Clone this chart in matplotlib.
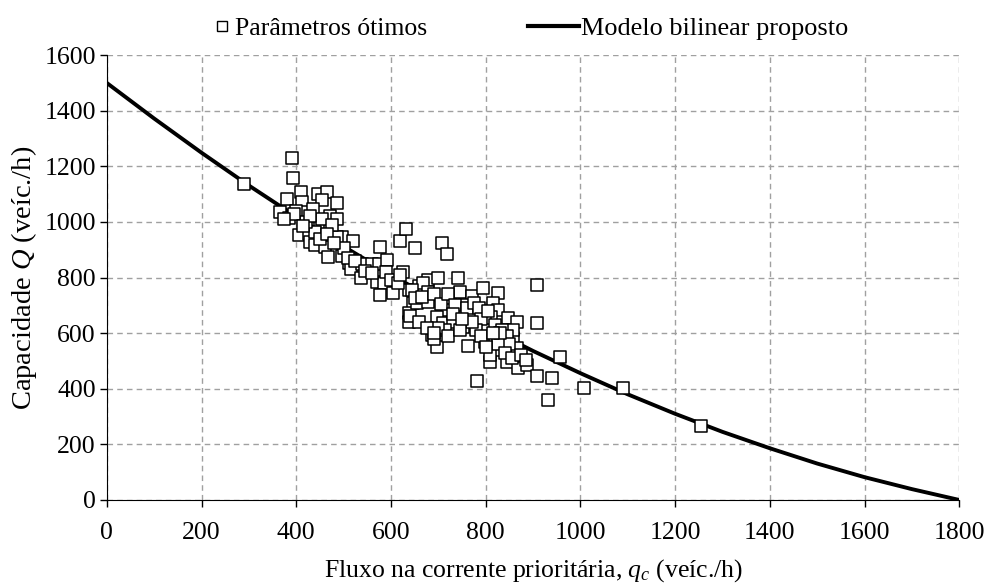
import matplotlib
matplotlib.use("Agg")
import matplotlib.pyplot as plt
from matplotlib.lines import Line2D

plt.rcParams['font.family'] = ['Liberation Serif', 'DejaVu Serif']
plt.rcParams['mathtext.fontset'] = 'custom'
plt.rcParams['mathtext.rm'] = 'Liberation Serif'
plt.rcParams['mathtext.it'] = 'Liberation Serif:italic'

# parâmetros ótimos (qc, Q)
qc_pts = [290, 392, 394, 409, 381, 445, 465, 455, 485, 413, 366, 385, 418, 435, 400,
          471, 485, 451, 471, 406, 427, 430, 439, 460, 496, 519, 485, 577, 619, 632,
          651, 468, 496, 511, 516, 539, 537, 559, 575, 591, 570, 586, 577, 604, 625,
          637, 647, 637, 637, 660, 707, 718, 679, 700, 742, 668, 679, 644, 654, 679,
          725, 745, 770, 756, 794, 825, 816, 827, 718, 697, 739, 811, 847, 866, 908,
          908, 709, 686, 753, 799, 801, 697, 763, 799, 830, 858, 866, 809, 844, 868,
          887, 908, 939, 956, 782, 932, 858, 1008, 1089, 1255,
          440, 455, 420, 395, 430, 475, 500, 510, 525, 545, 560, 590, 600, 615, 620,
          650, 665, 690, 705, 720, 735, 760, 775, 785, 790, 805, 820, 835, 845, 850,
          820, 780, 770, 730, 715, 700, 690, 720, 745, 810, 825, 840, 855, 875, 885,
          830, 450, 465, 480, 415, 375, 640, 660, 675, 690, 730, 750, 790, 800, 815]
Q_pts = [1135, 1230, 1157, 1107, 1082, 1102, 1107, 1080, 1068, 1072, 1035, 1016, 1035, 1045, 1040,
         1023, 1009, 988, 970, 952, 958, 928, 916, 910, 946, 932, 946, 910, 932, 976,
         908, 874, 877, 854, 830, 848, 800, 848, 848, 862, 784, 779, 737, 743, 820,
         755, 707, 671, 641, 769, 926, 884, 790, 797, 797, 779, 749, 755, 707, 713,
         719, 749, 733, 701, 764, 746, 707, 683, 683, 659, 665, 659, 653, 641, 773,
         637, 635, 593, 623, 641, 611, 551, 554, 569, 539, 581, 545, 497, 497, 473,
         485, 447, 437, 513, 428, 360, 611, 402, 402, 265,
         965, 1010, 1000, 1030, 1020, 990, 905, 870, 860, 825, 815, 820, 790, 780, 810,
         725, 730, 740, 705, 740, 700, 690, 710, 690, 650, 680, 630, 610, 590, 560,
         580, 610, 640, 640, 610, 620, 580, 590, 610, 520, 560, 530, 510, 520, 505,
         600, 940, 955, 925, 985, 1010, 660, 640, 620, 600, 670, 650, 590, 550, 600]

# modelo proposto (valores lidos ao longo da curva)
qc_model = [0, 100, 200, 300, 400, 500, 600, 700, 800, 900, 1000, 1100, 1200,
            1300, 1400, 1500, 1600, 1700, 1800]
Q_model = [1500, 1372, 1249, 1131, 1019, 912, 810, 714, 622, 536, 456, 380, 310,
           245, 186, 131, 82, 39, 0]

fs = 18.5

fig = plt.figure(figsize=(9.89, 5.83), dpi=100)
ax = fig.add_axes([0.108, 0.1424, 0.862, 0.763])

ax.plot(qc_model, Q_model, color='black', lw=2.8, zorder=2)
ax.scatter(qc_pts, Q_pts, marker='s', s=64, facecolor='white', edgecolor='black',
           linewidths=1.1, zorder=3)

ax.set_xlim(0, 1800)
ax.set_ylim(0, 1600)
ax.set_xticks(range(0, 1801, 200))
ax.set_yticks(range(0, 1601, 200))
ax.grid(True, color='#a0a0a0', linestyle=(0, (4, 3)), lw=1.0)
ax.set_axisbelow(True)
for s in ['top', 'right']:
    ax.spines[s].set_visible(False)
ax.tick_params(direction='out', length=5, width=1, labelsize=fs)
ax.tick_params(axis='x', pad=11)
ax.tick_params(axis='y', pad=3)

ax.set_xlabel(r'Fluxo na corrente prioritária, $q_c$ (veíc./h)', fontsize=fs, labelpad=9)
ax.set_ylabel(r'Capacidade $Q$ (veíc./h)', fontsize=20.5, labelpad=4)

h1 = Line2D([], [], marker='s', ls='none', markersize=7, markerfacecolor='white',
            markeredgecolor='black', markeredgewidth=1.0)
h2 = Line2D([], [], color='black', lw=3)
fig.legend([h1], ['Parâmetros ótimos'], loc='center left', bbox_to_anchor=(0.2144, 0.951),
           frameon=False, fontsize=fs, handlelength=0.8, handletextpad=0.1,
           borderpad=0, borderaxespad=0)
fig.legend([h2], ['Modelo bilinear proposto'], loc='center left', bbox_to_anchor=(0.534, 0.951),
           frameon=False, fontsize=18.9, handlelength=1.95, handletextpad=0.05,
           borderpad=0, borderaxespad=0)

fig.savefig('out.png', dpi=100)
